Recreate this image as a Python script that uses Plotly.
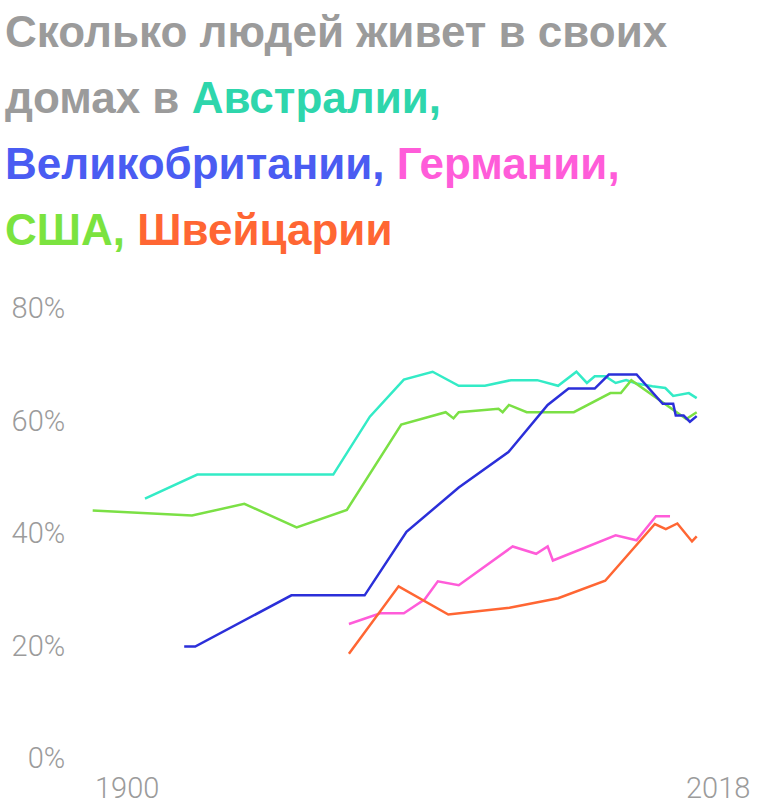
import plotly.graph_objects as go

# Australia
au_years = [1911, 1921, 1947, 1954, 1960.5, 1966, 1971, 1976, 1981, 1986, 1990,
            1993.5, 1995.5, 1997, 1999, 2001, 2003, 2005, 2008, 2010.5, 2012,
            2015, 2016.5]
au_vals = [46.1, 50.4, 50.4, 60.7, 67.3, 68.7, 66.2, 66.2, 67.2, 67.2, 66.2,
           68.7, 66.7, 67.9, 67.9, 66.7, 67.2, 66.6, 66.1, 65.8, 64.4,
           64.9, 64.0]

# United Kingdom
uk_years = [1918.5, 1920.6, 1939, 1953, 1961, 1971, 1980.5, 1988, 1992, 1997,
            1999.7, 2005, 2010, 2012, 2012.5, 2014, 2015.2, 2016.5]
uk_vals = [19.8, 19.8, 28.9, 28.9, 40.2, 48.1, 54.4, 62.8, 65.7, 65.7,
           68.2, 68.2, 63.0, 63.0, 60.9, 60.9, 59.8, 60.8]

# Germany
de_years = [1950, 1956, 1960.5, 1964.5, 1967, 1971, 1981.3, 1985.8, 1988, 1989,
            2001, 2005, 2008.7, 2011.4]
de_vals = [23.8, 25.7, 25.7, 28.2, 31.4, 30.7, 37.6, 36.3, 37.6, 35.1,
           39.6, 38.7, 43.0, 43.0]

# USA
us_years = [1901, 1920, 1930, 1940, 1949.6, 1960, 1968.5, 1970, 1971, 1978.6,
            1979.4, 1980.6, 1984, 1993, 2000, 2002, 2004, 2014.5, 2016.5]
us_vals = [44.0, 43.1, 45.2, 41.0, 44.1, 59.3, 61.5, 60.4, 61.5, 62.1,
           61.5, 62.8, 61.5, 61.5, 64.9, 64.9, 67.2, 60.3, 61.5]

# Switzerland
ch_years = [1950, 1959.5, 1969, 1980.7, 1990, 1999, 2008.5, 2010.6, 2012.8,
            2015.6, 2016.5]
ch_vals = [18.5, 30.5, 25.5, 26.7, 28.4, 31.5, 41.6, 40.7, 41.7, 38.5, 39.4]

y_ticks = [0, 20, 40, 60, 80]
y_labels = ["0%", "20%", "40%", "60%", "80%"]
x_labels = ["1900", "2018"]

series = [
    (au_years, au_vals, "#33ebc6"),
    (us_years, us_vals, "#7be045"),
    (de_years, de_vals, "#ff5cd9"),
    (ch_years, ch_vals, "#ff6633"),
    (uk_years, uk_vals, "#2b2fd9"),
]

fig = go.Figure()
for xs, ys, c in series:
    fig.add_trace(go.Scatter(x=xs, y=ys, mode="lines",
                             line=dict(color=c, width=2.5), hoverinfo="skip"))

gray = "#9b9b9b"
title_font = dict(family="Liberation Sans", size=44, color=gray, weight="bold")
title_lines = [
    "Сколько людей живет в своих",
    "домах в <span style='color:#2ed6ac'>Австралии,</span>",
    "<span style='color:#4a5cf2'>Великобритании,</span> "
    "<span style='color:#ff5cd9'>Германии,</span>",
    "<span style='color:#7be33f'>США,</span> "
    "<span style='color:#ff6633'>Швейцарии</span>",
]
anns = []
for i, t in enumerate(title_lines):
    anns.append(dict(text=t, xref="paper", yref="paper", x=0, y=1,
                     xanchor="left", yanchor="middle", showarrow=False,
                     xshift=-74, yshift=297 - (31 + i * 66.2),
                     font=title_font))

lab_font = dict(family="Roboto", size=29, color=gray, weight=300)
anns.append(dict(text=x_labels[0], xref="x", yref="paper", x=1900, y=0,
                 xanchor="center", yanchor="middle", showarrow=False,
                 xshift=39.5, yshift=-19, font=lab_font))
anns.append(dict(text=x_labels[1], xref="x", yref="paper", x=2018, y=0,
                 xanchor="center", yanchor="middle", showarrow=False,
                 xshift=13.5, yshift=-19, font=lab_font))
fig.update_layout(annotations=anns)

fig.update_layout(
    width=768, height=808,
    margin=dict(l=73, r=53, t=297, b=39),
    paper_bgcolor="white", plot_bgcolor="white",
    showlegend=False,
    xaxis=dict(range=[1898, 2020], showgrid=False, zeroline=False,
               showticklabels=False, showline=False),
    yaxis=dict(range=[-2, 82], tickvals=y_ticks, ticktext=y_labels,
               showgrid=False, zeroline=False, showline=False,
               ticks="outside", ticklen=5, tickcolor="rgba(0,0,0,0)",
               tickfont=lab_font),
)

# page body has a default 8px margin; drop it so the chart sits at 0,0
fig.write_html("out.html", config={"displayModeBar": False},
               post_script="document.body.style.margin='0';")
